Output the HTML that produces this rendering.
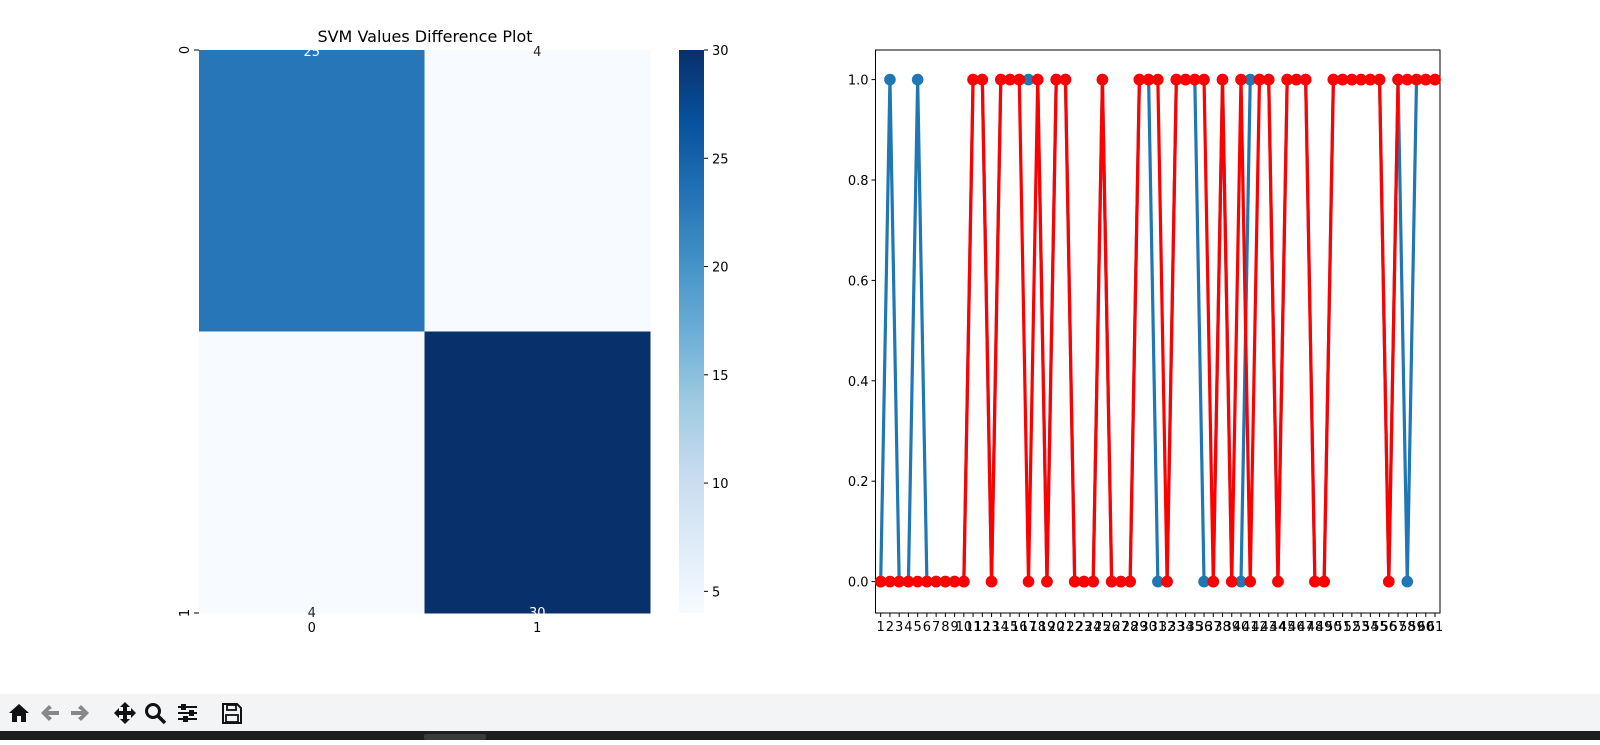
<!DOCTYPE html>
<html><head><meta charset="utf-8"><style>
body{margin:0;width:1600px;height:740px;background:#fff;overflow:hidden;font-family:"Liberation Sans","DejaVu Sans",sans-serif}
svg text{font-family:"DejaVu Sans","Liberation Sans",sans-serif}
</style></head><body>
<svg id="fig" width="1600" height="740" xmlns="http://www.w3.org/2000/svg">
<text x="425" y="42" font-size="16" text-anchor="middle">SVM Values Difference Plot</text>
<g id="heat"></g>
<g id="cbar"></g>
<g id="line"></g>
<rect x="0" y="694" width="1600" height="37" fill="#f3f4f6"/>
<rect x="0" y="731" width="1600" height="9" fill="#1e1e1e"/>
<rect x="424" y="734" width="62" height="6" rx="2" fill="#3a3a3a"/>
<g><path d="M9 713 L19 704 L29 713 L26 713 L26 722 L21 722 L21 716 L17 716 L17 722 L12 722 L12 713 Z" fill="#111"/></g>
<g><path d="M41 713 L49 705 L52 708 L48 711 L59 711 L59 715 L48 715 L52 718 L49 721 Z" fill="#888"/></g>
<g><path d="M89 713 L81 705 L78 708 L82 711 L71 711 L71 715 L82 715 L78 718 L81 721 Z" fill="#888"/></g>
<g><path d="M125 702 L130 707 L127 707 L127 711 L131 711 L131 708 L136 713 L131 718 L131 715 L127 715 L127 719 L130 719 L125 724 L120 719 L123 719 L123 715 L119 715 L119 718 L114 713 L119 708 L119 711 L123 711 L123 707 L120 707 Z" fill="#111"/></g>
<g><circle cx="153" cy="711" r="6.5" fill="none" stroke="#111" stroke-width="3"/><line x1="158" y1="716" x2="165" y2="723" stroke="#111" stroke-width="3.5"/></g>
<g stroke="#111" stroke-width="2"><line x1="178" y1="707" x2="197" y2="707"/><line x1="178" y1="713" x2="197" y2="713"/><line x1="178" y1="719" x2="197" y2="719"/><rect x="182" y="705" width="3" height="4" fill="#111"/><rect x="190" y="711" width="3" height="4" fill="#111"/><rect x="184" y="717" width="3" height="4" fill="#111"/></g>
<g><path d="M223 704 L237 704 L241 708 L241 723 L223 723 Z" fill="none" stroke="#111" stroke-width="2"/><rect x="227" y="705" width="9" height="5" fill="none" stroke="#111" stroke-width="1.8"/><rect x="226" y="715" width="12" height="7" fill="none" stroke="#111" stroke-width="1.8"/></g>
</svg>
<script>
const NS="http://www.w3.org/2000/svg";
const cmLabels=["0","1"];
const cmValues=[[25,4],[4,30]];
const cbTicks=[5,10,15,20,25,30];
const blueSeries=[0,1,0,0,1,0,0,0,0,0,1,1,0,1,1,1,1,1,0,1,1,0,0,0,1,0,0,0,1,1,0,0,1,1,1,0,0,1,0,0,1,1,1,0,1,1,1,0,0,1,1,1,1,1,1,0,1,0,1,1,1];
const redSeries=[0,0,0,0,0,0,0,0,0,0,1,1,0,1,1,1,0,1,0,1,1,0,0,0,1,0,0,0,1,1,1,0,1,1,1,1,0,1,0,1,0,1,1,0,1,1,1,0,0,1,1,1,1,1,1,0,1,1,1,1,1];
const yTicks=[0,0.2,0.4,0.6,0.8,1.0];

function mk(tag,attrs,parent,txt){const e=document.createElementNS(NS,tag);for(const k in attrs)e.setAttribute(k,attrs[k]);if(txt!==undefined)e.textContent=txt;parent.appendChild(e);return e;}
const blues=[[247,251,255],[222,235,247],[198,219,239],[158,202,225],[107,174,214],[66,146,198],[33,113,181],[8,81,156],[8,48,107]];
const allV=cmValues.flat();const vmin=Math.min(...allV),vmax=Math.max(...allV);
function color(v){let t=(v-vmin)/(vmax-vmin);t=Math.pow(Math.max(0,Math.min(1,t)),1.5)*(blues.length-1);const i=Math.min(Math.floor(t),blues.length-2),f=t-i;const c=blues[i].map((a,k)=>Math.round(a+(blues[i+1][k]-a)*f));return `rgb(${c})`;}

const heat=document.getElementById('heat');
const hx0=199,hx1=650,hy0=50,hy1=613,n=cmLabels.length;
const cw=(hx1-hx0)/n,ch=(hy1-hy0)/n;
cmValues.forEach((row,r)=>row.forEach((v,c)=>{
  const rc=mk('rect',{x:hx0+c*cw,y:hy0+r*ch,width:cw+0.5,height:ch+0.5,fill:color(v)},heat);
  
  
  const ty=r===0?hy0+6:hy1+4;
  const t=mk('text',{x:hx0+(c+0.5)*cw,y:ty,'font-size':13,'text-anchor':'middle',fill:(v-vmin)/(vmax-vmin)>0.5?'#fff':'#262626'},heat,String(v));
  
  
}));
cmLabels.forEach((lab,i)=>{
  const ty=hy0+i*(hy1-hy0);
  mk('line',{x1:hx0-5,y1:ty,x2:hx0,y2:ty,stroke:'#000'},heat);
  const t=mk('text',{x:0,y:0,'font-size':13,'text-anchor':'middle',transform:`translate(${hx0-10},${ty}) rotate(-90)`},heat,lab);
  
  
  const tx=hx0+(i+0.5)*cw;
  mk('line',{x1:tx,y1:hy1,x2:tx,y2:hy1+4},heat);
  const xt=mk('text',{x:tx,y:hy1+19,'font-size':13,'text-anchor':'middle'},heat,lab);
  
  
});

const cb=document.getElementById('cbar');
const cx0=679,cx1=704;
function cbY(v){return hy1-(v-vmin)/(vmax-vmin)*(hy1-hy0);}
const defs=mk('defs',{},cb);const g=mk('linearGradient',{id:'cg',x1:0,y1:1,x2:0,y2:0},defs);
blues.forEach((c,i)=>mk('stop',{offset:i/(blues.length-1),'stop-color':`rgb(${c})`},g));
mk('rect',{x:cx0,y:hy0,width:cx1-cx0,height:hy1-hy0,fill:'url(#cg)'},cb);
cbTicks.forEach(v=>{const y=cbY(v);mk('line',{x1:cx1,y1:y,x2:cx1+4,y2:y,stroke:'#000'},cb);
  const t=mk('text',{x:cx1+8,y:y+5,'font-size':13},cb,String(v));
  
  });

const L=document.getElementById('line');
const ax0=875.5,ax1=1440,ay0=50,ay1=613;
const N=redSeries.length;
const X=i=>880.7+i*(1435-880.7)/(N-1);
const Y=v=>581.6-v*(581.6-79.6);
mk('rect',{x:ax0,y:ay0,width:ax1-ax0,height:ay1-ay0,fill:'#fff',stroke:'#000','stroke-width':1},L);
yTicks.forEach(v=>{const y=Y(v);mk('line',{x1:ax0-4,y1:y,x2:ax0,y2:y,stroke:'#000'},L);
  const t=mk('text',{x:ax0-7,y:y+5,'font-size':13,'text-anchor':'end'},L,v.toFixed(1));
  
  });
for(let i=0;i<N;i++){const x=X(i);mk('line',{x1:x,y1:ay1,x2:x,y2:ay1+4,stroke:'#000'},L);
  const t=mk('text',{x:x,y:ay1+18,'font-size':13,'text-anchor':'middle'},L,String(i+1));
  
  }
function series(data,col,name){
  const p=mk('polyline',{points:data.map((v,i)=>X(i)+','+Y(v)).join(' '),fill:'none',stroke:col,'stroke-width':3.2,'stroke-linejoin':'round'},L);
  
  
  data.forEach((v,i)=>{const c=mk('circle',{cx:X(i),cy:Y(v),r:5.8,fill:col},L);
    
    });
}
series(blueSeries,'#1f77b4','actual');
series(redSeries,'#ff0000','predicted');
</script>
</body></html>
